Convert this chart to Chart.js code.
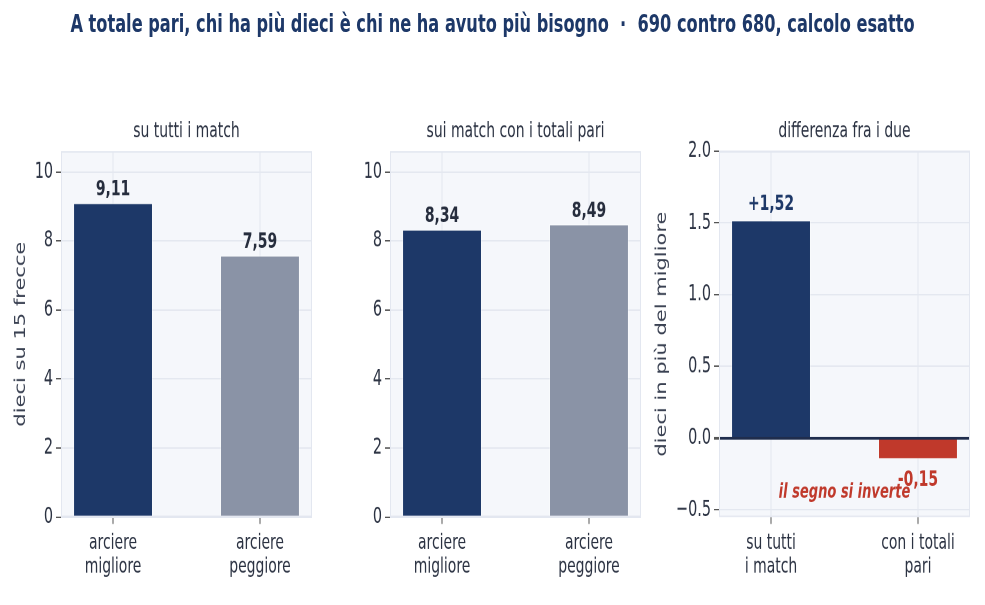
<!DOCTYPE html>
<html>
<head>
<meta charset="utf-8">
<script src="https://cdn.jsdelivr.net/npm/chart.js@4"></script>
<style>
  body { margin: 0; background: #fff; width: 985px; height: 605px; overflow: hidden; }
  /* the figure is laid out 432px tall and stretched to 605 */
  #fig { position: absolute; left: 0; top: 0; width: 985px; height: 432px;
    transform: scaleY(1.4); transform-origin: 0 0; }
  #title { position: absolute; left: 0; top: 6px; width: 985px; text-align: center; white-space: nowrap;
    font: bold 18px "DejaVu Sans Condensed", "DejaVu Sans", sans-serif; color: #1d3868; }
  .box { position: absolute; top: 0; height: 432px; }
</style>
</head>
<body>
<div id="fig">
  <div id="title">A totale pari, chi ha più dieci è chi ne ha avuto più bisogno &nbsp;·&nbsp; 690 contro 680, calcolo esatto</div>
  <div class="box" style="left:0;width:322px"><canvas id="c1"></canvas></div>
  <div class="box" style="left:330px;width:321px"><canvas id="c2"></canvas></div>
  <div class="box" style="left:651px;width:334px"><canvas id="c3"></canvas></div>
</div>
<script>
const archerLabels = [['arciere', 'migliore'], ['arciere', 'peggiore']];
const allMatches = [9.11, 7.59];
const tiedMatches = [8.34, 8.49];
const diffLabels = [['su tutti', 'i match'], ['con i totali', 'pari']];
const differences = [1.52, -0.15];

const NAVY = '#1d3868';
const GREY = '#8a93a6';
const RED = '#c0392b';
const TEXT = '#2b3242';
const COND = '"DejaVu Sans Condensed", "DejaVu Sans", sans-serif';

// plot background, border, subplot title, value labels, note
const panelPlugin = {
    id: 'panel',
    beforeDraw(chart) {
        const a = chart.chartArea, ctx = chart.ctx;
        ctx.save();
        ctx.fillStyle = '#f5f7fb';
        ctx.fillRect(a.left, a.top, a.right - a.left, a.bottom - a.top);
        ctx.restore();
    },
    afterDraw(chart) {
        const a = chart.chartArea, ctx = chart.ctx, o = chart.options.plugins.panel;
        ctx.save();
        ctx.strokeStyle = '#e3e7f0';
        ctx.lineWidth = 1;
        ctx.strokeRect(a.left + 0.5, a.top + 0.5, a.right - a.left - 1, a.bottom - a.top - 1);
        ctx.fillStyle = TEXT;
        ctx.font = '15.5px ' + COND;
        ctx.textAlign = 'center';
        ctx.textBaseline = 'alphabetic';
        ctx.fillText(o.title, (a.left + a.right) / 2, a.top - 10);

        const meta = chart.getDatasetMeta(0);
        const data = chart.data.datasets[0].data;
        ctx.font = 'bold 15.5px ' + COND;
        meta.data.forEach((bar, i) => {
            const v = data[i];
            let txt = v.toFixed(2).replace('.', ',');
            if (o.signed && v > 0) txt = '+' + txt;
            ctx.fillStyle = o.labelColors[i];
            if (v >= 0) {
                ctx.textBaseline = 'alphabetic';
                ctx.fillText(txt, bar.x, bar.y - o.gap);
            } else {
                ctx.textBaseline = 'top';
                ctx.fillText(txt, bar.x, bar.y + 7);
            }
        });
        if (o.note) {
            const x = chart.scales.x.getPixelForValue(o.note.x);
            const y = chart.scales.y.getPixelForValue(o.note.y);
            ctx.font = 'italic bold 14.5px ' + COND;
            ctx.fillStyle = RED;
            ctx.textBaseline = 'middle';
            ctx.fillText(o.note.text, x, y);
        }
        ctx.restore();
    }
};

function makePanel(id, labels, values, colors, opts) {
    return new Chart(document.getElementById(id), {
        type: 'bar',
        data: {
            labels: labels.map((_, i) => i),
            datasets: [{
                data: values,
                backgroundColor: colors,
                borderColor: 'rgba(255,255,255,0.35)',
                borderWidth: 1,
                barPercentage: 0.544,
                categoryPercentage: 1
            }]
        },
        options: {
            responsive: true,
            maintainAspectRatio: false,
            animation: false,
            devicePixelRatio: 2,
            layout: { padding: { top: 108, right: opts.padRight, left: 0, bottom: 0 } },
            plugins: {
                legend: { display: false },
                tooltip: { enabled: false },
                panel: opts.panel
            },
            scales: {
                x: {
                    type: 'linear',
                    min: -0.354,
                    max: 1.354,
                    offset: false,
                    grid: { offset: false, color: '#e4e8f0', tickColor: '#555', tickLength: 5 },
                    border: { display: false },
                    ticks: {
                        stepSize: 1,
                        includeBounds: false,
                        color: TEXT,
                        font: { family: COND, size: 15.5, lineHeight: 1.1 },
                        padding: 5,
                        maxRotation: 0,
                        callback: v => labels[v]
                    },
                    afterFit(s) { s.height = 62.7; }
                },
                y: {
                    min: opts.min,
                    max: opts.max,
                    grid: {
                        color: c => c.tick && c.tick.value === 0 && opts.zeroLine ? '#1f2d4d' : '#e4e8f0',
                        lineWidth: c => c.tick && c.tick.value === 0 && opts.zeroLine ? 2 : 1,
                        tickColor: '#555',
                        tickLength: 5
                    },
                    border: { display: false },
                    ticks: {
                        stepSize: opts.step,
                        includeBounds: false,
                        color: TEXT,
                        font: { family: COND, size: 16 },
                        padding: 3,
                        callback: opts.tickFmt
                    },
                    title: {
                        display: !!opts.yTitle,
                        text: opts.yTitle,
                        color: '#3a4152',
                        font: { family: '"DejaVu Sans", sans-serif', size: 15 },
                        padding: { top: opts.titlePad || 0, bottom: 0 }
                    },
                    afterFit(s) { s.width = opts.yWidth; }
                }
            }
        },
        plugins: [panelPlugin]
    });
}

makePanel('c1', archerLabels, allMatches, [NAVY, GREY], {
    min: 0, max: 10.6, step: 2, yWidth: 61, padRight: 10, titlePad: 12,
    yTitle: 'dieci su 15 frecce',
    tickFmt: v => v,
    panel: { title: 'su tutti i match', labelColors: ['#262d3d', '#262d3d'], gap: 5 }
});

makePanel('c2', archerLabels, tiedMatches, [NAVY, GREY], {
    min: 0, max: 10.6, step: 2, yWidth: 60, padRight: 10,
    tickFmt: v => v,
    panel: { title: 'sui match con i totali pari', labelColors: ['#262d3d', '#262d3d'], gap: 5 }
});

makePanel('c3', diffLabels, differences, [NAVY, RED], {
    min: -0.55, max: 2.0, step: 0.5, yWidth: 68, padRight: 15, zeroLine: true, titlePad: 2,
    yTitle: 'dieci in più del migliore',
    tickFmt: v => v.toFixed(1).replace('-', '\u2212'),
    panel: {
        title: 'differenza fra i due', signed: true, labelColors: [NAVY, RED], gap: 7,
        note: { text: 'il segno si inverte', x: 0.5, y: -0.38 }
    }
});
</script>
</body>
</html>
